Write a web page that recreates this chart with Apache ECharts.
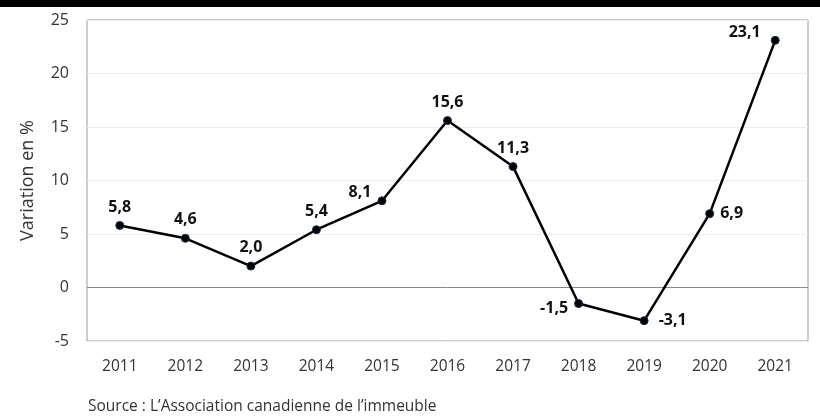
<!DOCTYPE html>
<html>
<head>
<meta charset="utf-8">
<script src="https://cdn.jsdelivr.net/npm/echarts@6/dist/echarts.min.js"></script>
<style>
  html, body { margin: 0; padding: 0; background: #fff; }
  #chart { width: 820px; height: 419px; }
</style>
</head>
<body>
<div id="chart"></div>
<script>
// données
const annees = ["2011", "2012", "2013", "2014", "2015", "2016", "2017", "2018", "2019", "2020", "2021"];
const variation = [5.8, 4.6, 2.0, 5.4, 8.1, 15.6, 11.3, -1.5, -3.1, 6.9, 23.1];
const yTicks = [-5, 0, 5, 10, 15, 20, 25];

// position des étiquettes (par point)
const labelPos = {
  4: { position: "left", offset: [0, -8] },
  7: { position: "left", offset: [0, 5] },
  8: { position: "right", distance: 10 },
  9: { position: "right", distance: 6 },
  10: { position: "left", offset: [-4, -8] }
};

let myChart = echarts.init(document.getElementById("chart"));
const font = "'Open Sans', 'Noto Sans', sans-serif";

let option = {
  animation: false,
  textStyle: { fontFamily: font },
  grid: {
    left: 87, right: 12, top: 20, bottom: 78,
    show: true, borderColor: "#9a9a9a", borderWidth: 1
  },
  graphic: [
    { type: "rect", left: 0, top: 0, shape: { width: 820, height: 7 }, style: { fill: "#000" } },
    {
      type: "text", left: 88, top: 399,
      style: { text: "Source : L\u2019Association canadienne de l\u2019immeuble", font: "15.5px " + font, fill: "#333" }
    }
  ],
  xAxis: {
    type: "category",
    data: annees,
    boundaryGap: true,
    axisLine: { show: false },
    axisTick: { show: false },
    axisLabel: { color: "#333", fontSize: 15.5, margin: 18 }
  },
  yAxis: {
    type: "value",
    min: yTicks[0],
    max: yTicks[yTicks.length - 1],
    interval: 5,
    name: "Variation en %",
    nameLocation: "middle",
    nameGap: 50,
    nameTextStyle: { fontSize: 18, color: "#333" },
    axisLine: { show: false },
    axisTick: { show: false },
    axisLabel: { color: "#333", fontSize: 16, margin: 18 },
    splitLine: {
      lineStyle: {
        color: yTicks.map(v => v === 0 ? "#8a8a8a" : "#ececec"),
        width: 1
      }
    }
  },
  series: [
    {
      type: "line",
      data: variation.map((v, i) => {
        const d = { value: v };
        if (labelPos[i]) d.label = labelPos[i];
        return d;
      }),
      symbol: "circle",
      symbolSize: 8,
      itemStyle: { color: "#000", borderColor: "#1a2a4a", borderWidth: 1 },
      lineStyle: { color: "#000", width: 2.5 },
      label: {
        show: true,
        position: "top",
        distance: 6,
        fontSize: 16,
        fontWeight: "bold",
        color: "#111",
        formatter: p => p.value.toFixed(1).replace(".", ",")
      }
    }
  ]
};
myChart.setOption(option);
</script>
</body>
</html>
